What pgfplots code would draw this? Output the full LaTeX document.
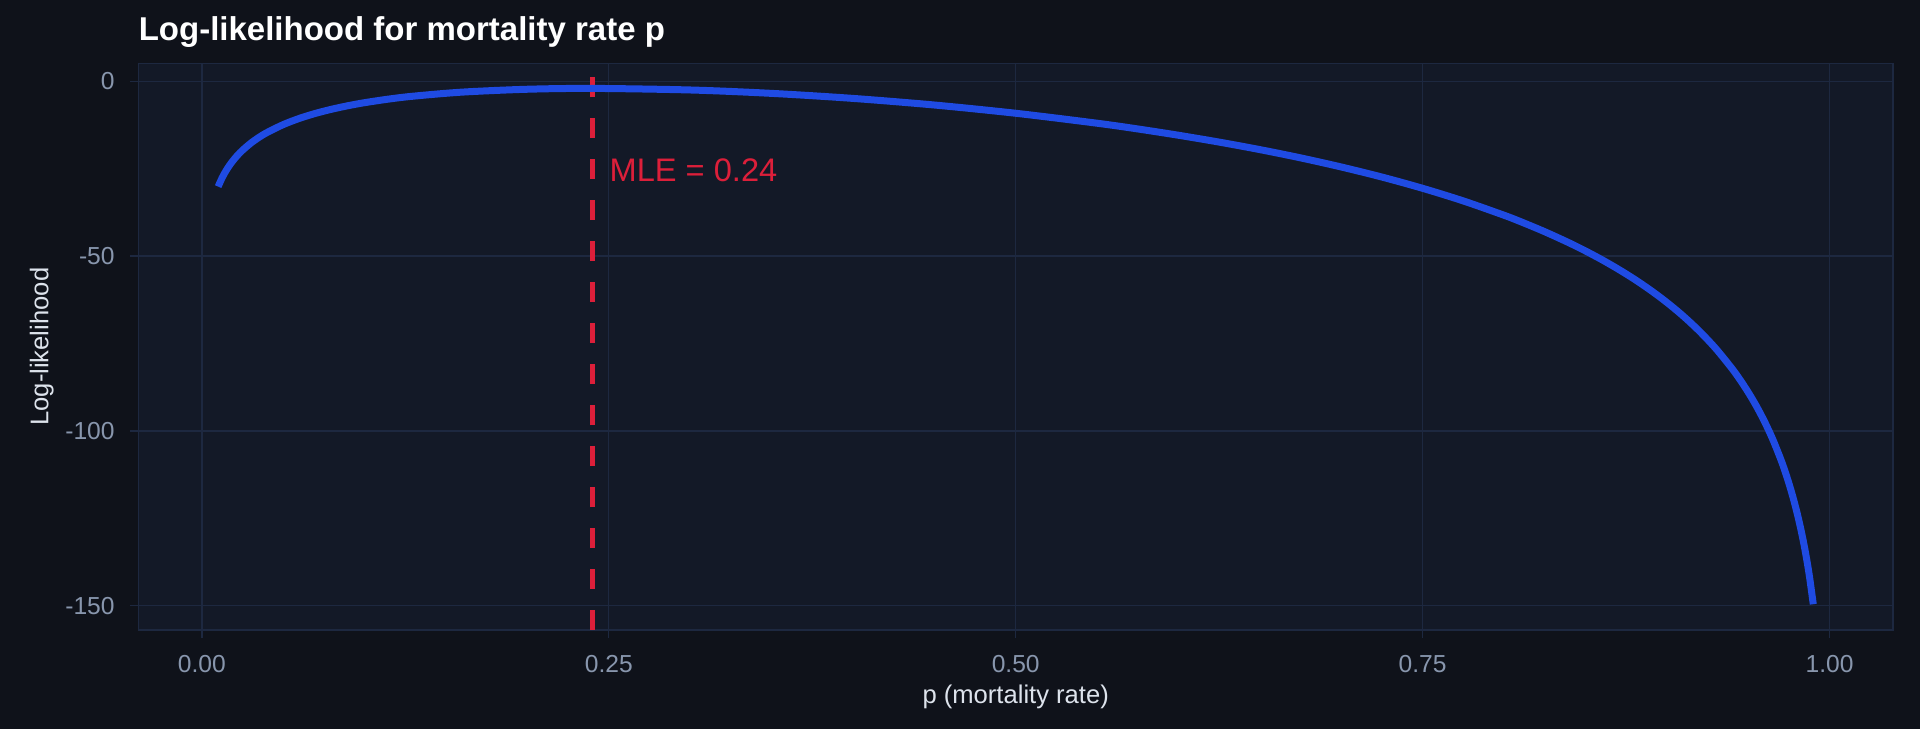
\documentclass[border=0pt]{standalone}
\usepackage{pgfplots}
\pgfplotsset{compat=1.18}
\usepackage{fontspec}
\setmainfont{Liberation Sans}
\definecolor{figbg}{HTML}{0F121A}
\definecolor{panelbg}{HTML}{131927}
\definecolor{gridc}{HTML}{1D2840}
\definecolor{tickc}{HTML}{8896AD}
\definecolor{labc}{HTML}{DDE3EC}
\definecolor{curvec}{HTML}{1F4BE3}
\definecolor{mlec}{HTML}{DC1F3A}
\pgfplotstableread{
p ll
0.010 -30.12
0.0125 -27.54
0.015 -25.45
0.0175 -23.70
0.020 -22.19
0.0225 -20.87
0.025 -19.71
0.030 -17.71
0.035 -16.06
0.040 -14.66
0.050 -12.38
0.060 -10.59
0.070 -9.15
0.080 -7.96
0.090 -6.96
0.100 -6.11
0.115 -5.07
0.130 -4.25
0.160 -3.09
0.200 -2.27
0.240 -2.03
0.300 -2.48
0.350 -3.45
0.400 -4.89
0.450 -6.78
0.500 -9.14
0.550 -11.99
0.575 -13.63
0.600 -15.43
0.625 -17.39
0.650 -19.54
0.675 -21.90
0.700 -24.51
0.725 -27.39
0.750 -30.61
0.775 -34.22
0.800 -38.31
0.810 -40.11
0.825 -43.02
0.840 -46.21
0.850 -48.52
0.860 -51.00
0.870 -53.68
0.880 -56.58
0.890 -59.75
0.900 -63.24
0.910 -67.11
0.920 -71.46
0.930 -76.40
0.940 -82.13
0.945 -85.37
0.950 -88.93
0.955 -92.87
0.960 -97.29
0.965 -102.30
0.970 -108.09
0.9725 -111.37
0.975 -114.96
0.9775 -118.93
0.980 -123.38
0.9825 -128.42
0.985 -134.25
0.9875 -141.15
0.990 -149.59
}\lltable
\begin{document}
\begin{tikzpicture}[x=1pt,y=1pt]
\fill[figbg] (0,0) rectangle (960,-364.5);
\useasboundingbox (0,0) rectangle (960,-364.5);
\begin{axis}[
  at={(69.2pt,-31.65pt)}, anchor=north west,
  width=877.3pt, height=283.35pt, scale only axis,
  xmin=-0.039, xmax=1.039, ymin=-156.97, ymax=5.15,
  axis background/.style={fill=panelbg},
  axis line style={draw=gridc, line width=0.65pt},
  grid=major, major grid style={draw=gridc, line width=0.65pt},
  xtick={0,0.25,0.5,0.75,1}, xticklabels={0.00,0.25,0.50,0.75,1.00},
  ytick={-150,-100,-50,0}, yticklabels={-150,-100,-50,0},
  tick align=outside, major tick length=4pt,
  tick style={draw=gridc, line width=0.65pt},
  xtick pos=bottom, ytick pos=left,
  xticklabel style={font=\fontsize{12.3}{14}\selectfont, text=tickc, inner sep=0pt, anchor=north, yshift=-8.5pt},
  yticklabel style={font=\fontsize{12.3}{14}\selectfont, text=tickc, inner sep=0pt, anchor=east, xshift=-7.7pt},
  xlabel={p (mortality rate)},
  ylabel={Log-likelihood},
  xlabel style={font=\fontsize{12.8}{15}\selectfont, text=labc, inner sep=0pt, at={(axis description cs:0.5,-0.1293)}, anchor=base},
  ylabel style={font=\fontsize{12.8}{15}\selectfont, text=labc, inner sep=0pt, at={(axis description cs:-0.0513,0.5)}, anchor=base},
  title={Log-likelihood for mortality rate p},
  every axis title/.style={font=\fontsize{16.5}{19}\selectfont\bfseries, text=white, inner sep=0pt, at={(axis description cs:0,1.0411)}, anchor=base west},
  clip=true,
]
\addplot[draw=mlec, line width=2.35pt, dash pattern=on 10pt off 10.5pt] coordinates {(0.24,-156.97) (0.24,5.15)};
\addplot[draw=curvec, line width=3.5pt, smooth, tension=0.5] table[x=p,y=ll] {\lltable};
\node[anchor=base west, inner sep=0pt, text=mlec, font=\fontsize{16.3}{19}\selectfont] at (axis cs:0.2503,-28.7) {MLE = 0.24};
\end{axis}
\end{tikzpicture}
\end{document}
